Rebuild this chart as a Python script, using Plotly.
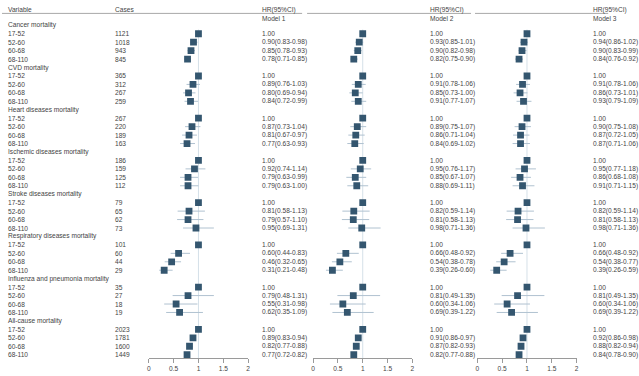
import plotly.graph_objects as go

W, H = 639, 376

groups = ["Cancer mortality", "CVD mortality", "Heart diseases mortality",
          "Ischemic diseases mortality", "Stroke diseases mortality",
          "Respiratory diseases mortality", "Influenza and pneumonia mortality",
          "All-cause mortality"]
age_cats = ["17-52", "52-60", "60-68", "68-110"]

cases = [[1121, 1018, 943, 845], [365, 312, 267, 259], [267, 220, 189, 163],
         [186, 159, 125, 112], [79, 65, 62, 73], [101, 60, 44, 29],
         [35, 27, 18, 19], [2023, 1781, 1600, 1449]]

# Model 1
m1_hr = [[1.00, 0.90, 0.85, 0.78], [1.00, 0.89, 0.80, 0.84], [1.00, 0.87, 0.81, 0.77],
         [1.00, 0.92, 0.79, 0.79], [1.00, 0.81, 0.79, 0.95], [1.00, 0.60, 0.46, 0.31],
         [1.00, 0.79, 0.55, 0.62], [1.00, 0.89, 0.82, 0.77]]
m1_lo = [[1.00, 0.83, 0.78, 0.71], [1.00, 0.76, 0.69, 0.72], [1.00, 0.73, 0.67, 0.63],
         [1.00, 0.74, 0.63, 0.63], [1.00, 0.58, 0.57, 0.69], [1.00, 0.44, 0.32, 0.21],
         [1.00, 0.48, 0.31, 0.35], [1.00, 0.83, 0.77, 0.72]]
m1_hi = [[1.00, 0.98, 0.93, 0.85], [1.00, 1.03, 0.94, 0.99], [1.00, 1.04, 0.97, 0.93],
         [1.00, 1.14, 0.99, 1.00], [1.00, 1.13, 1.10, 1.31], [1.00, 0.83, 0.65, 0.48],
         [1.00, 1.31, 0.98, 1.09], [1.00, 0.94, 0.88, 0.82]]
# Model 2
m2_hr = [[1.00, 0.93, 0.90, 0.82], [1.00, 0.91, 0.85, 0.91], [1.00, 0.89, 0.86, 0.84],
         [1.00, 0.95, 0.85, 0.88], [1.00, 0.82, 0.81, 0.98], [1.00, 0.66, 0.54, 0.39],
         [1.00, 0.81, 0.60, 0.69], [1.00, 0.91, 0.87, 0.82]]
m2_lo = [[1.00, 0.85, 0.82, 0.75], [1.00, 0.78, 0.73, 0.77], [1.00, 0.75, 0.71, 0.69],
         [1.00, 0.76, 0.67, 0.69], [1.00, 0.59, 0.58, 0.71], [1.00, 0.48, 0.38, 0.26],
         [1.00, 0.49, 0.34, 0.39], [1.00, 0.86, 0.82, 0.77]]
m2_hi = [[1.00, 1.01, 0.98, 0.90], [1.00, 1.06, 1.00, 1.07], [1.00, 1.07, 1.04, 1.02],
         [1.00, 1.17, 1.07, 1.11], [1.00, 1.14, 1.13, 1.36], [1.00, 0.92, 0.78, 0.60],
         [1.00, 1.35, 1.06, 1.22], [1.00, 0.97, 0.93, 0.88]]
# Model 3
m3_hr = [[1.00, 0.94, 0.90, 0.84], [1.00, 0.91, 0.86, 0.93], [1.00, 0.90, 0.87, 0.87],
         [1.00, 0.95, 0.86, 0.91], [1.00, 0.82, 0.81, 0.98], [1.00, 0.66, 0.54, 0.39],
         [1.00, 0.81, 0.60, 0.69], [1.00, 0.92, 0.88, 0.84]]
m3_lo = [[1.00, 0.86, 0.83, 0.76], [1.00, 0.78, 0.73, 0.79], [1.00, 0.75, 0.72, 0.71],
         [1.00, 0.77, 0.68, 0.71], [1.00, 0.59, 0.58, 0.71], [1.00, 0.48, 0.38, 0.26],
         [1.00, 0.49, 0.34, 0.39], [1.00, 0.86, 0.82, 0.78]]
m3_hi = [[1.00, 1.02, 0.99, 0.92], [1.00, 1.06, 1.01, 1.09], [1.00, 1.08, 1.05, 1.06],
         [1.00, 1.18, 1.08, 1.15], [1.00, 1.14, 1.13, 1.36], [1.00, 0.92, 0.77, 0.59],
         [1.00, 1.35, 1.06, 1.22], [1.00, 0.98, 0.94, 0.90]]

models = ["Model 1", "Model 2", "Model 3"]
tick_vals = [0, 0.5, 1, 1.5, 2]
tick_text = ["0", "0.5", "1", "1.5", "2"]

# ---- styling / layout constants (pixels) ----
MARKER = "#34566f"
CI = "#b0c2d0"
REF = "#d5e0e8"
TXT = "#444444"
AXC = "#9a9a9a"
FONT = "Liberation Sans, Arial, sans-serif"
FS = 6.6
ROW0_PX, ROW_PX = 25.3, 8.446
panel_px = [(147.7, 247.7), (313.0, 413.0), (478.3, 578.3)]
hrtext_px = [261, 430, 594]
var_px, cases_px = 5, 113
axis_px = 358.0
header_px, model_px = 9.6, 18.2
line_px = 13.4
line_segs = [(0, 302), (307, 472), (476, 610)]


def px2row(py):
    return (py - ROW0_PX) / ROW_PX


def fmt(h, lo, hi, ref):
    return "1.00" if ref else f"{h:.2f}({lo:.2f}-{hi:.2f})"


fig = go.Figure()
annotations = []
shapes = []

all_models = [(m1_hr, m1_lo, m1_hi), (m2_hr, m2_lo, m2_hi), (m3_hr, m3_lo, m3_hi)]

for g, name in enumerate(groups):
    gy = g * 5
    annotations.append(dict(x=var_px / W, y=gy, text=name))
    for i, cat in enumerate(age_cats):
        y = gy + 1 + i
        annotations.append(dict(x=var_px / W, y=y, text=cat))
        annotations.append(dict(x=cases_px / W, y=y, text=str(cases[g][i])))

for k, (hr, lo, hi) in enumerate(all_models):
    ys, xs, ep, em = [], [], [], []
    for g in range(len(groups)):
        for i in range(len(age_cats)):
            y = g * 5 + 1 + i
            ys.append(y)
            xs.append(hr[g][i])
            ep.append(hi[g][i] - hr[g][i])
            em.append(hr[g][i] - lo[g][i])
            annotations.append(dict(x=hrtext_px[k] / W, y=y,
                                    text=fmt(hr[g][i], lo[g][i], hi[g][i], i == 0)))
    xname = "x" if k == 0 else f"x{k+1}"
    fig.add_trace(go.Scatter(
        x=xs, y=ys, mode="markers", xaxis=xname, yaxis="y",
        marker=dict(symbol="square", size=6.8, color=MARKER, line=dict(width=0)),
        error_x=dict(type="data", symmetric=False, array=ep, arrayminus=em,
                     color=CI, thickness=1, width=0),
        showlegend=False, hoverinfo="skip"))
    # reference line at HR = 1
    shapes.append(dict(type="line", xref=xname, yref="y", x0=1, x1=1,
                       y0=0.5, y1=px2row(axis_px), layer="below",
                       line=dict(color=REF, width=1)))
    annotations.append(dict(x=hrtext_px[k] / W, y=px2row(header_px), text="HR(95%CI)"))
    annotations.append(dict(x=hrtext_px[k] / W, y=px2row(model_px), text=models[k]))

annotations.append(dict(x=var_px / W, y=px2row(header_px), text="Variable"))
annotations.append(dict(x=cases_px / W, y=px2row(header_px), text="Cases"))

for a in annotations:
    a.update(xref="paper", yref="y", xanchor="left", yanchor="middle",
             showarrow=False, font=dict(size=FS, color=TXT, family=FONT),
             borderpad=0)

for x0, x1 in line_segs:
    shapes.append(dict(type="line", xref="paper", yref="y", x0=x0 / W, x1=x1 / W,
                       y0=px2row(line_px), y1=px2row(line_px),
                       line=dict(color="#a8a8a8", width=1)))

axis_common = dict(range=[0, 2], tickvals=tick_vals, ticktext=tick_text,
                   showgrid=False, zeroline=False, showline=True,
                   linecolor=AXC, linewidth=1, ticks="outside", ticklen=4,
                   tickcolor=AXC, tickfont=dict(size=FS, color=TXT, family=FONT),
                   anchor="free", position=1 - axis_px / H, fixedrange=True)

layout_axes = {}
for k, (a, b) in enumerate(panel_px):
    key = "xaxis" if k == 0 else f"xaxis{k+1}"
    layout_axes[key] = dict(axis_common, domain=[a / W, b / W])

fig.update_layout(
    width=W, height=H, margin=dict(l=0, r=0, t=0, b=0),
    paper_bgcolor="white", plot_bgcolor="white",
    yaxis=dict(range=[px2row(H), px2row(0)], domain=[0, 1], visible=False,
               fixedrange=True),
    annotations=annotations, shapes=shapes,
    font=dict(family=FONT, size=FS, color=TXT),
    **layout_axes)

fig.write_html("out.html", config={"displayModeBar": False},
               post_script="document.body.style.margin='0';document.body.style.padding='0';document.body.style.overflow='hidden';")
